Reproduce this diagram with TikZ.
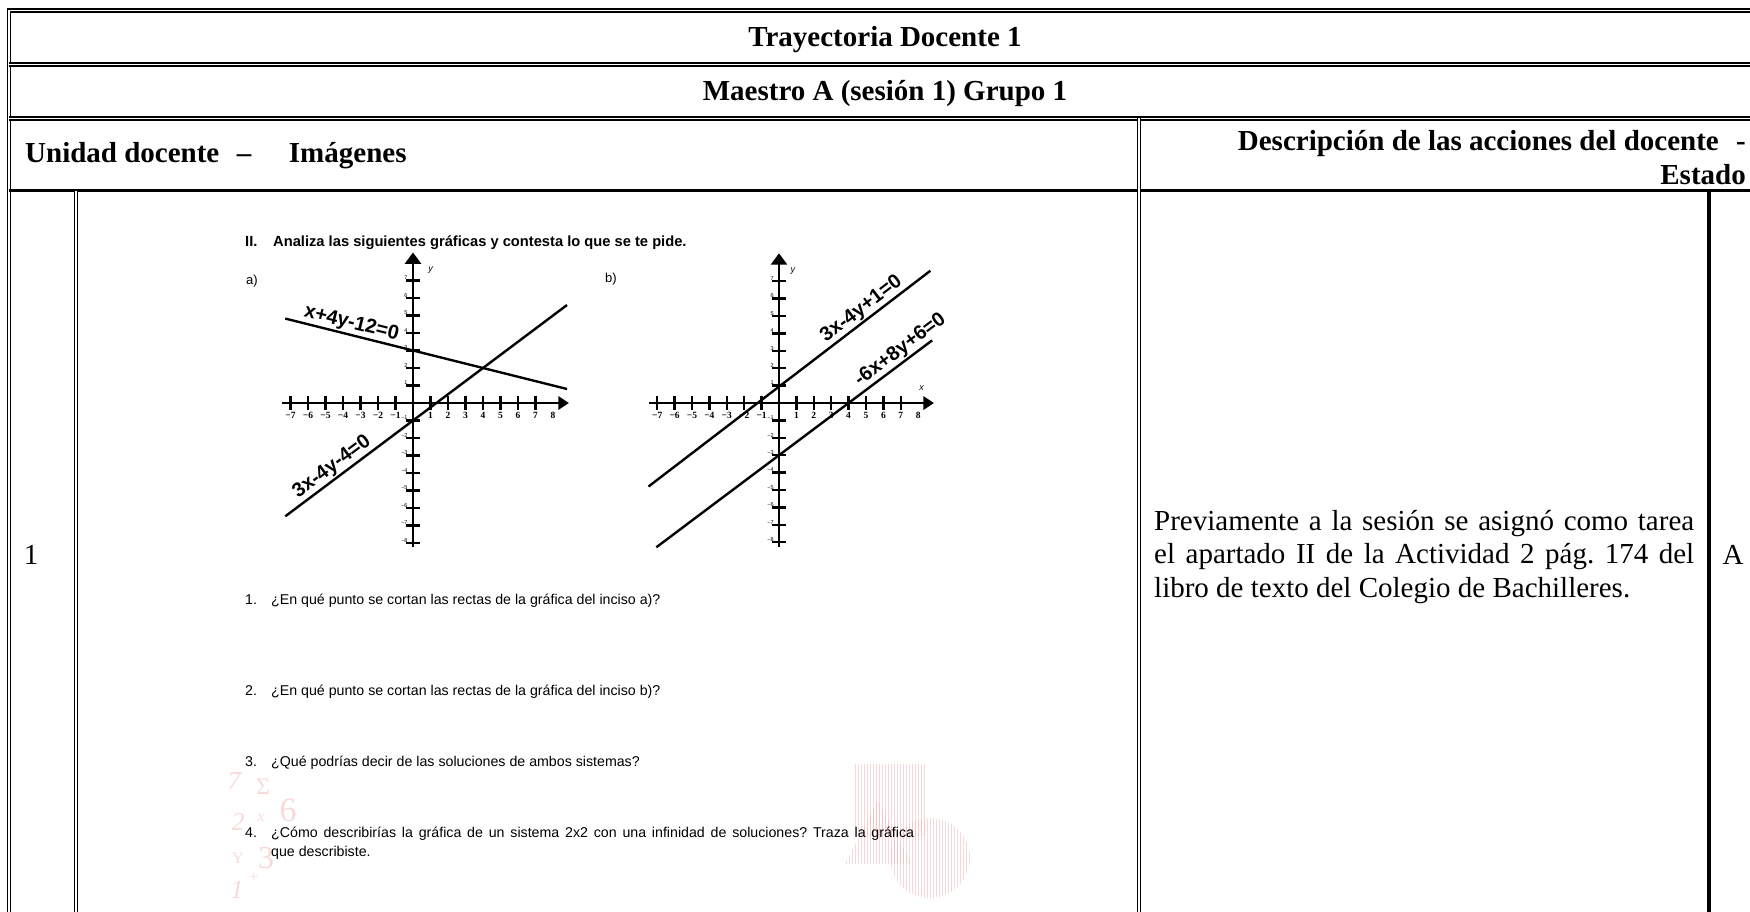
\documentclass[tikz,border=0pt]{standalone}
\usepackage{fontspec}
\usepackage{graphicx}
\setmainfont{Liberation Serif}
\newfontfamily\sheetsans{Liberation Sans}
\usetikzlibrary{patterns}

\definecolor{wmark}{RGB}{249,218,218}
\definecolor{wmarkline}{RGB}{240,170,170}

\tikzset{
  dblrule/.style={draw=black, line width=1.3pt, double=white, double distance=1.8pt},
  heavyrule/.style={draw=black, line width=3pt},
  headtext/.style={font=\fontsize{29}{33.5}\selectfont\bfseries, inner sep=0pt},
  bodytext/.style={font=\fontsize{29}{33.5}\selectfont, inner sep=0pt},
  axisline/.style={line width=2.6pt},
  tickmark/.style={line width=2.3pt},
  plotline/.style={line width=2.4pt},
  eqlabel/.style={font=\sheetsans\bfseries\fontsize{20}{20}\selectfont, inner sep=1pt, sloped, above},
  xnum/.style={font=\fontsize{9.5}{9.5}\selectfont\bfseries, inner sep=0pt},
  ynum/.style={font=\sheetsans\fontsize{5.5}{6}\selectfont, inner sep=0pt, anchor=east},
  axisname/.style={font=\sheetsans\itshape\fontsize{9}{9}\selectfont, inner sep=0pt},
  sheethead/.style={font=\sheetsans\bfseries\fontsize{14.7}{14.7}\selectfont, inner sep=0pt, anchor=base west},
  sheettext/.style={font=\sheetsans\fontsize{14.2}{19}\selectfont, inner sep=0pt, anchor=base west},
  wmsym/.style={text=wmark, inner sep=0pt, font=\itshape},
}

% axes of one worksheet graph; #1 prefixes the node names
\newcommand\coordaxes[1]{%
  \draw[axisline] (-7.5,0) -- (8.35,0);
  \fill (8.9,0) -- (8.3,0.4) -- (8.3,-0.4) -- cycle;
  \draw[axisline] (0,-8.25) -- (0,8.0);
  \fill (0,8.6) -- (-0.48,7.95) -- (0.48,7.95) -- cycle;
  \foreach \n in {1,...,7} {
    \draw[tickmark] (\n,-0.38) -- (\n,0.38);
    \draw[tickmark] (-\n,-0.38) -- (-\n,0.38);
    \draw[tickmark] (-0.4,\n) -- (0.4,\n);
    \node[xnum] (#1xp\n) at (\n,-0.7) {\n};
    \node[xnum] (#1xn\n) at (-\n,-0.7) {−\n};
    \node[ynum] (#1yp\n) at (-0.3,\n+0.15) {\n};
  }
  \foreach \n in {1,...,8} {
    \draw[tickmark] (-0.4,-\n) -- (0.4,-\n);
    \node[ynum] (#1yn\n) at (-0.3,-\n+0.15) {−\n};
  }
  \node[xnum] (#1xp8) at (8,-0.7) {8};
}

\begin{document}
\frenchspacing
\begin{tikzpicture}[x=1pt,y=-1pt]
\useasboundingbox (0,0) rectangle (1750,912);
\fill[white] (0,0) rectangle (1750,912);

% table rules
\begin{scope}
\clip (0,0) rectangle (1750,912);
\draw[dblrule] (9,930) -- (9,10.5) -- (1770,10.5);
\draw[dblrule] (9,64.5) -- (1770,64.5);
\draw[dblrule] (9,118.5) -- (1770,118.5);
\draw[heavyrule] (9,191) -- (1770,191);
\draw[dblrule] (76,191) -- (76,930);
\draw[dblrule] (1139,118.5) -- (1139,930);
\draw[line width=3.5pt] (1709,191) -- (1709,930);
\end{scope}

% table headings and cells
\node[headtext] (title) at (885,40) {Trayectoria Docente 1};
\node[headtext] (group) at (885,94) {Maestro A (sesión 1) Grupo 1};
\node[headtext, anchor=west] (unit) at (25,156) {Unidad docente\hspace{0.6em}–\hspace{1.3em}Imágenes};
\node[headtext, anchor=north east, align=right] (deschead) at (1746,130.5) {Descripción de las acciones del docente\hspace{0.6em}-\\Estado};
\node[bodytext] (unitno) at (31,555) {1};
\node[bodytext, anchor=north west, text width=540pt, align=justify] (desc) at (1154,510)
  {\hyphenpenalty=10000 Previamente a la sesión se asignó como tarea\linebreak el apartado II de la Actividad 2 pág. 174 del\linebreak libro de texto del Colegio de Bachilleres.};
\node[bodytext] (state) at (1733,555) {A};

% faint watermark behind the worksheet
\node[wmsym, font=\fontsize{26}{26}\selectfont\itshape] (wm7) at (234,781) {7};
\node[wmsym, font=\fontsize{24}{24}\selectfont] (wmsig) at (263,787) {Σ};
\node[wmsym, font=\fontsize{26}{26}\selectfont\itshape] (wm2) at (238,822) {2};
\node[wmsym, font=\fontsize{16}{16}\selectfont\itshape] (wmx) at (261,818) {x};
\node[wmsym, font=\fontsize{34}{34}\selectfont] (wm6) at (288,810) {6};
\node[wmsym, font=\fontsize{16}{16}\selectfont] (wmy) at (238,858) {Y};
\node[wmsym, font=\fontsize{32}{32}\selectfont] (wm3) at (266,858) {3};
\node[wmsym, font=\fontsize{26}{26}\selectfont\itshape] (wm1) at (237,890) {1};
\node[wmsym, font=\fontsize{16}{16}\selectfont] (wmplus) at (254,878) {+};
\begin{scope}[opacity=0.45]
\fill[pattern=vertical lines, pattern color=wmarkline] (855,764) rectangle (925,835);
\fill[pattern=vertical lines, pattern color=wmarkline] (845,864) -- (878,800) -- (912,864) -- cycle;
\fill[pattern=vertical lines, pattern color=wmarkline] (930,858) circle[radius=40];
\end{scope}

% worksheet text
\node[sheethead] (wsnum) at (245,246) {II.};
\node[sheethead] (wshead) at (273,246) {Analiza las siguientes gráficas y contesta lo que se te pide.};
\node[font=\sheetsans\fontsize{13}{13}\selectfont, inner sep=0pt] (parta) at (252,281) {a)};
\node[font=\sheetsans\fontsize{13}{13}\selectfont, inner sep=0pt] (partb) at (611,279) {b)};

% graph a
\begin{scope}[shift={(413,403)}, x=17.5pt, y=17.5pt]
  \coordaxes{ga}
  \node[axisname] (gayname) at (1.0,7.6) {y};
  \draw[plotline] (-7.3,4.825) -- (8.8,0.8) node[eqlabel, pos=0.225] (eqa1) {x+4y-12=0};
  \draw[plotline] (-7.3,-6.475) -- (8.8,5.6) node[eqlabel, pos=0.19] (eqa2) {3x-4y-4=0};
\end{scope}

% graph b
\begin{scope}[shift={(779,403)}, x=17.4pt, y=17.4pt]
  \coordaxes{gb}
  \node[axisname] (gbyname) at (0.8,7.6) {y};
  \node[axisname] (gbxname) at (8.2,0.85) {x};
  \draw[plotline] (-7.5,-4.8) -- (8.7,7.6) node[eqlabel, pos=0.78] (eqb1) {3x-4y+1=0};
  \draw[plotline] (-7.05,-8.29) -- (8.8,3.6) node[eqlabel, pos=0.91] (eqb2) {-6x+8y+6=0};
\end{scope}

% questions
\node[sheettext] (q1n) at (245,604) {1.};
\node[sheettext] (q1) at (271,604) {¿En qué punto se cortan las rectas de la gráfica del inciso a)?};
\node[sheettext] (q2n) at (245,695.5) {2.};
\node[sheettext] (q2) at (271,695.5) {¿En qué punto se cortan las rectas de la gráfica del inciso b)?};
\node[sheettext] (q3n) at (245,766.5) {3.};
\node[sheettext] (q3) at (271,766.5) {¿Qué podrías decir de las soluciones de ambos sistemas?};
\node[sheettext] (q4n) at (245,837) {4.};
\node[sheettext] (q4) at (271,837) {\makebox[643pt][s]{¿Cómo describirías la gráfica de un sistema 2x2 con una infinidad de soluciones? Traza la gráfica}};
\node[sheettext] (q4b) at (271,856) {que describiste.};
\end{tikzpicture}
\end{document}
